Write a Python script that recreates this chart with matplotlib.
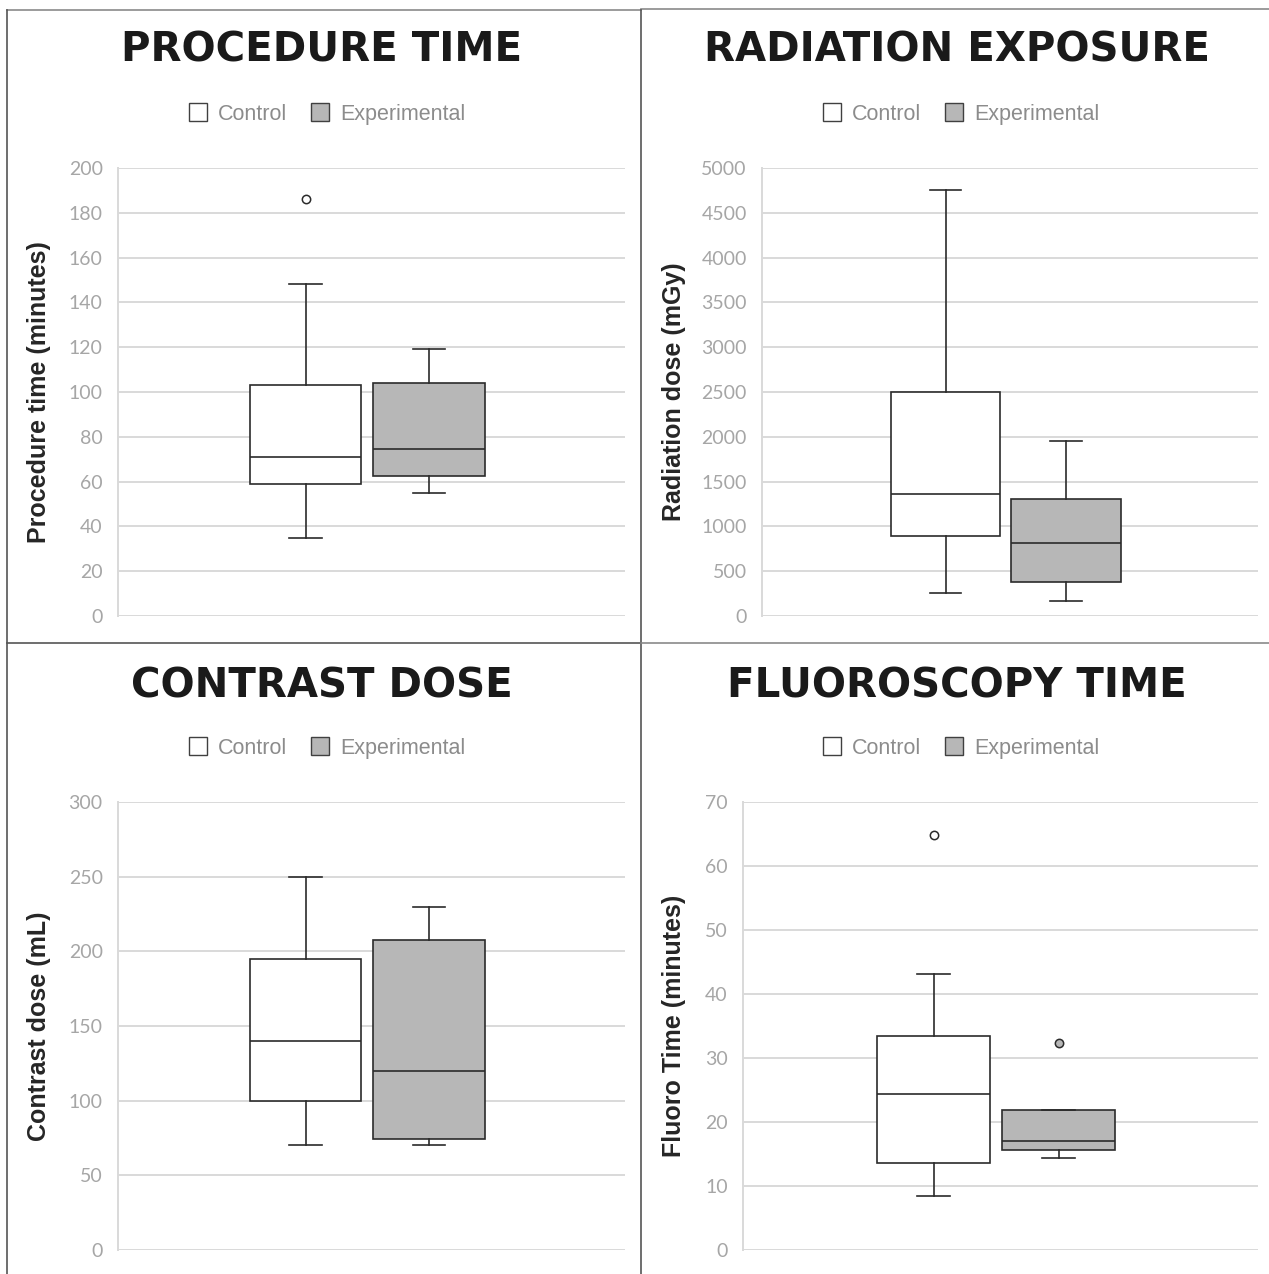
import matplotlib
matplotlib.use("Agg")
import matplotlib.pyplot as plt
from matplotlib.patches import Patch
from matplotlib.lines import Line2D

# ---------------- data ----------------
series_names = ["Control", "Experimental"]
titles = ["PROCEDURE TIME", "RADIATION EXPOSURE", "CONTRAST DOSE", "FLUOROSCOPY TIME"]
ylabels = ["Procedure time (minutes)", "Radiation dose (mGy)", "Contrast dose (mL)", "Fluoro Time (minutes)"]
yticks_list = [list(range(0, 201, 20)), list(range(0, 5001, 500)),
               list(range(0, 301, 50)), list(range(0, 71, 10))]

# [whislo, q1, median, q3, whishi] for Control / Experimental
proc_control = [35, 59, 71, 103, 148]
proc_exp = [55, 62.5, 74.5, 104, 119]
proc_out_control = [186]
proc_out_exp = []

rad_control = [260, 890, 1362, 2505, 4760]
rad_exp = [167, 379, 817, 1307, 1952]
rad_out_control = []
rad_out_exp = []

con_control = [70, 100, 140, 195, 250]
con_exp = [70, 74, 120, 207.5, 230]
con_out_control = []
con_out_exp = []

flu_control = [8.4, 13.6, 24.4, 33.5, 43.1]
flu_exp = [14.3, 15.7, 17.0, 21.9, 21.9]
flu_out_control = [64.8]
flu_out_exp = [32.4]

panels_data = [
    (proc_control, proc_exp, proc_out_control, proc_out_exp),
    (rad_control, rad_exp, rad_out_control, rad_out_exp),
    (con_control, con_exp, con_out_control, con_out_exp),
    (flu_control, flu_exp, flu_out_control, flu_out_exp),
]

# ---------------- style ----------------
W, H = 1269, 1274
fig = plt.figure(figsize=(W / 100, H / 100), dpi=100)
fig.patch.set_facecolor("white")

fill_colors = ["white", "#B7B7B7"]
edge = "#2b2b2b"
grid_c = "#D9D9D9"
tick_c = "#A6A6A6"

# axes rectangles in pixels: left, right, top, bottom
rects_px = [(118, 625, 168, 616), (762, 1258, 168, 616),
            (118, 625, 802, 1250), (743, 1258, 802, 1250)]
label_x_px = [51, 686, 51, 686]
title_pos_px = [(322, 62), (957, 62), (322, 697), (957, 697)]
legend_pos_px = [(327, 114), (961, 114), (327, 748), (961, 748)]

positions = [0.37, 0.613]
box_w = 0.22
cap_w = 0.064


def stats_from(vals, fliers, label):
    lo, q1, med, q3, hi = vals
    return dict(whislo=lo, q1=q1, med=med, q3=q3, whishi=hi, fliers=fliers, label=label)


for i in range(4):
    l, r, t, b = rects_px[i]
    ax = fig.add_axes([l / W, 1 - b / H, (r - l) / W, (b - t) / H])
    c_vals, e_vals, c_out, e_out = panels_data[i]
    all_vals = [c_vals, e_vals]
    all_out = [c_out, e_out]
    for j in range(2):
        st = [stats_from(all_vals[j], all_out[j], series_names[j])]
        ax.bxp(st, positions=[positions[j]], widths=box_w, capwidths=[cap_w],
               patch_artist=True, showfliers=True,
               boxprops=dict(facecolor=fill_colors[j], edgecolor=edge, linewidth=1.2),
               medianprops=dict(color=edge, linewidth=1.2),
               whiskerprops=dict(color=edge, linewidth=1.2),
               capprops=dict(color=edge, linewidth=1.2),
               flierprops=dict(marker="o", markersize=6, markerfacecolor=fill_colors[j],
                               markeredgecolor=edge, markeredgewidth=1.1),
               zorder=3)
    yt = yticks_list[i]
    ax.set_ylim(yt[0], yt[-1])
    ax.set_xlim(0, 1)
    ax.set_yticks(yt)
    ax.set_xticks([])
    ax.yaxis.grid(True, color=grid_c, linewidth=1.4)
    ax.set_axisbelow(True)
    for s in ["top", "right", "bottom"]:
        ax.spines[s].set_visible(False)
    ax.spines["left"].set_color(grid_c)
    ax.spines["left"].set_linewidth(1.4)
    ax.tick_params(axis="y", length=0, pad=11, labelcolor=tick_c, labelsize=14)
    for lab in ax.get_yticklabels():
        lab.set_family(["Lato", "DejaVu Sans"])
    ax.set_ylabel(ylabels[i], fontsize=18, fontweight="bold", color="#262626",
                  family=["Liberation Sans", "DejaVu Sans"])
    ax.yaxis.set_label_coords((label_x_px[i] - l) / (r - l), 0.5)

    tx, ty = title_pos_px[i]
    fig.text(tx / W, 1 - ty / H, titles[i], ha="center", va="baseline", fontsize=29,
             fontweight="bold", color="#1a1a1a", family=["DejaVu Sans"])

    handles = [Patch(facecolor=fill_colors[k], edgecolor="#404040", linewidth=1.0,
                     label=series_names[k]) for k in range(2)]
    lx, ly = legend_pos_px[i]
    leg = fig.legend(handles=handles, loc="center", bbox_to_anchor=(lx / W, 1 - ly / H),
                     ncol=2, frameon=False, handlelength=0.85, handleheight=0.85,
                     handletextpad=0.5, columnspacing=1.1,
                     prop=dict(family=["Liberation Sans", "DejaVu Sans"], size=15.5))
    for txt in leg.get_texts():
        txt.set_color("#8C8C8C")

# panel border lines (figure decoration)
dark = "#555555"
light = "#8a8a8a"
fig.add_artist(Line2D([7 / W, 641 / W], [1 - 10 / H, 1 - 10 / H], color=light, lw=1.2))
fig.add_artist(Line2D([641 / W, 1], [1 - 9 / H, 1 - 9 / H], color=light, lw=1.2))
fig.add_artist(Line2D([7 / W, 7 / W], [0, 1 - 10 / H], color=dark, lw=1.2))
fig.add_artist(Line2D([641 / W, 641 / W], [0, 1 - 10 / H], color=dark, lw=1.2))
fig.add_artist(Line2D([7 / W, 641 / W], [1 - 643 / H, 1 - 643 / H], color=dark, lw=1.2))
fig.add_artist(Line2D([641 / W, 1], [1 - 643 / H, 1 - 643 / H], color=light, lw=1.2))

fig.savefig("out.png", dpi=100, facecolor="white")
